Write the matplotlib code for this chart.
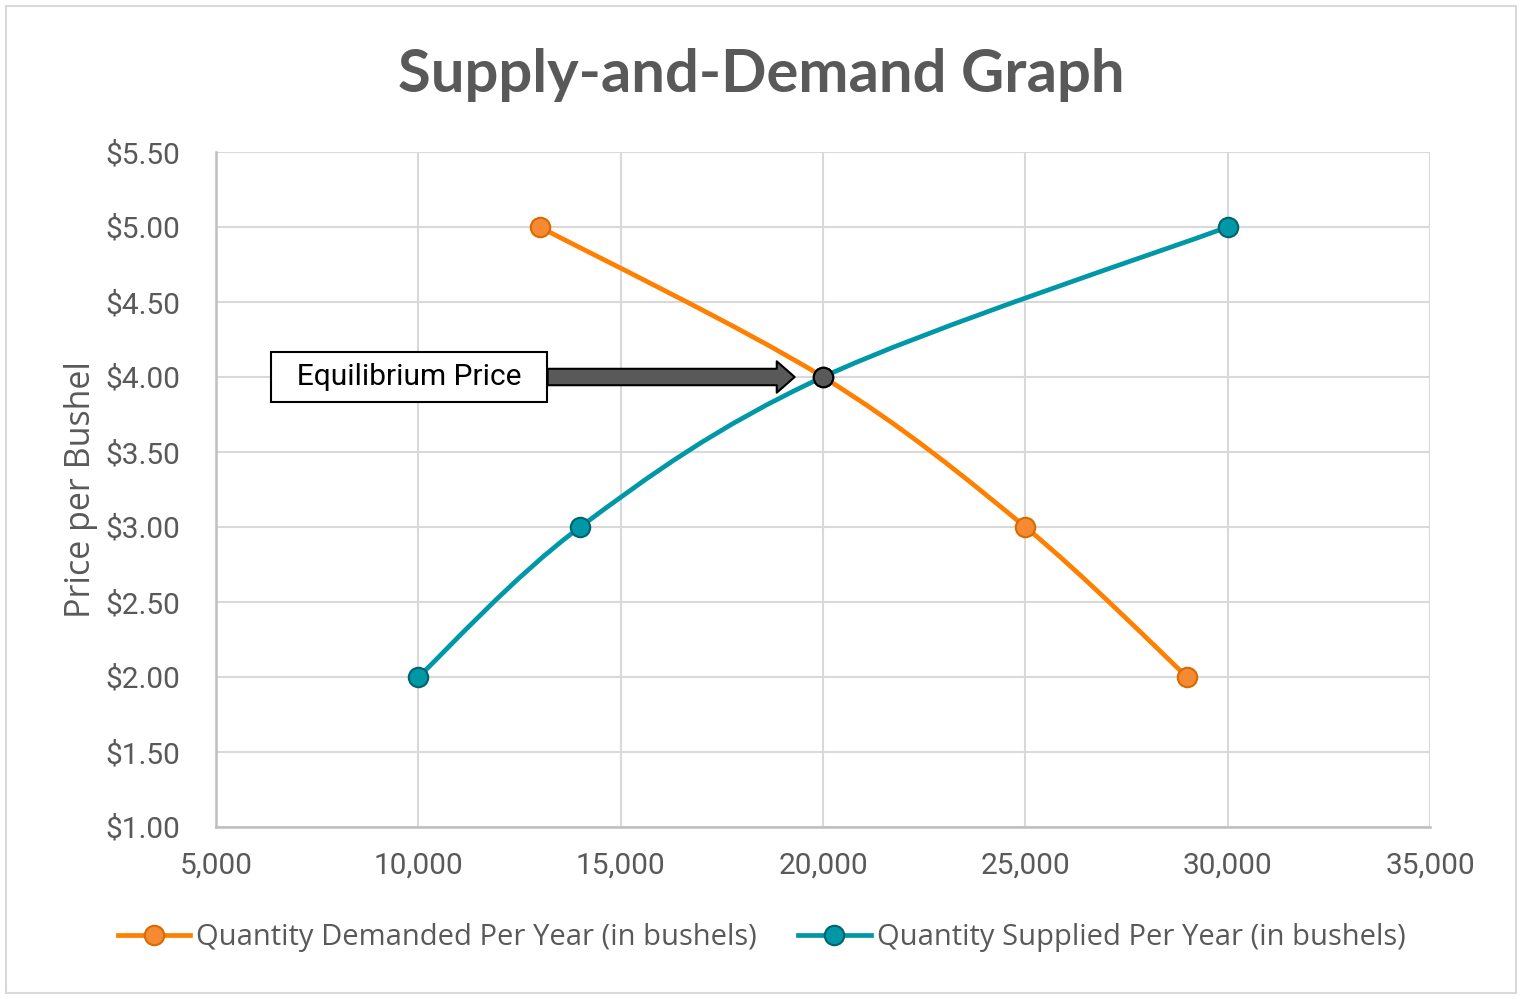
import numpy as np
import matplotlib
matplotlib.use('Agg')
from matplotlib import pyplot as plt
from matplotlib.path import Path
from matplotlib.patches import PathPatch, Rectangle
from matplotlib.lines import Line2D
from matplotlib.ticker import FuncFormatter

# data
demand_qty = [13000, 20000, 25000, 29000]
demand_price = [5.0, 4.0, 3.0, 2.0]
supply_qty = [10000, 14000, 20000, 30000]
supply_price = [2.0, 3.0, 4.0, 5.0]
eq_qty = 20000
eq_price = 4.0

title = 'Supply-and-Demand Graph'
ylabel = 'Price per Bushel'
demand_label = 'Quantity Demanded Per Year (in bushels)'
supply_label = 'Quantity Supplied Per Year (in bushels)'

orange = '#FF7F00'
orange_fill = '#F58A32'
orange_edge = '#D86A00'
teal = '#0097A7'
teal_edge = '#00646E'
grid_c = '#D9D9D9'
text_c = '#595959'


def smooth_path(xs, ys):
    # excel-like smoothing: catmull-rom turned into cubic bezier segments
    pts = np.column_stack([xs, ys]).astype(float)
    ext = np.vstack([pts[0], pts, pts[-1]])
    verts = [pts[0]]
    codes = [Path.MOVETO]
    for i in range(1, len(ext) - 2):
        p0, p1, p2, p3 = ext[i - 1], ext[i], ext[i + 1], ext[i + 2]
        verts += [p1 + (p2 - p0) / 6, p2 - (p3 - p1) / 6, p2]
        codes += [Path.CURVE4] * 3
    return Path(verts, codes)


fig = plt.figure(figsize=(15.23, 9.99), dpi=100)
fig.patches.append(Rectangle((6 / 1523, 6 / 999), 1510 / 1523, 987 / 999,
                             transform=fig.transFigure, fill=False,
                             ec=grid_c, lw=1.5))
ax = fig.add_axes([216 / 1523, 172 / 999, 1214 / 1523, 675 / 999])

ax.set_xlim(5000, 35000)
ax.set_ylim(1.0, 5.5)
ax.set_xticks(np.arange(5000, 35001, 5000))
ax.set_yticks(np.arange(1.0, 5.51, 0.5))
ax.xaxis.set_major_formatter(FuncFormatter(lambda v, p: f'{v:,.0f}'))
ax.yaxis.set_major_formatter(FuncFormatter(lambda v, p: f'${v:.2f}'))
ax.grid(True, color=grid_c, lw=1.5)
ax.set_axisbelow(True)
for s in ['top', 'right']:
    ax.spines[s].set_visible(False)
for s in ['left', 'bottom']:
    ax.spines[s].set_color('#BFBFBF')
    ax.spines[s].set_linewidth(1.8)
ax.tick_params(length=0, labelsize=21.5, labelcolor=text_c)
ax.tick_params(axis='y', pad=26)
ax.tick_params(axis='x', pad=18)
for lab in ax.get_xticklabels() + ax.get_yticklabels():
    lab.set_family('Roboto')

ax.add_patch(PathPatch(smooth_path(demand_qty, demand_price), fill=False,
                       ec=orange, lw=3.4, capstyle='round', zorder=3))
ax.add_patch(PathPatch(smooth_path(supply_qty, supply_price), fill=False,
                       ec=teal, lw=3.4, capstyle='round', zorder=3))
ax.plot(demand_qty, demand_price, ls='none', marker='o', ms=14,
        mfc=orange_fill, mec=orange_edge, mew=1.5, zorder=4)
ax.plot(supply_qty, supply_price, ls='none', marker='o', ms=14,
        mfc=teal, mec=teal_edge, mew=1.5, zorder=4)
ax.plot([eq_qty], [eq_price], ls='none', marker='o', ms=14,
        mfc='#595959', mec='black', mew=1.5, zorder=5)

ax.annotate('  Equilibrium Price  ', xy=(19300, eq_price), xytext=(9770, eq_price),
            ha='center', va='center', fontsize=21.5, family='Roboto', color='black',
            bbox=dict(boxstyle='square,pad=0.36', fc='white', ec='black', lw=1.5),
            arrowprops=dict(arrowstyle='simple,head_length=0.6,head_width=1.05,tail_width=0.55',
                            fc='#595959', ec='black', lw=1.5, shrinkA=0, shrinkB=0),
            zorder=6)

ax.set_ylabel(ylabel, fontsize=24.5, family='Open Sans', color=text_c, labelpad=5)
fig.text(0.5, 1 - 75 / 999, title, ha='center', va='center', fontsize=43,
         fontweight='bold', family='Lato', color=text_c)

handles = [
    Line2D([], [], color=orange, lw=3.4, marker='o', ms=14, mfc=orange_fill,
           mec=orange_edge, mew=1.5),
    Line2D([], [], color=teal, lw=3.4, marker='o', ms=14, mfc=teal,
           mec=teal_edge, mew=1.5),
]
leg = fig.legend(handles, [demand_label, supply_label], loc='center',
                 bbox_to_anchor=(0.5, 1 - 938 / 999), ncol=2, frameon=False,
                 handlelength=2.5, handletextpad=0.2, columnspacing=1.4,
                 prop={'family': 'Open Sans', 'size': 21})
for t in leg.get_texts():
    t.set_color(text_c)

fig.savefig('out.png', dpi=100)
